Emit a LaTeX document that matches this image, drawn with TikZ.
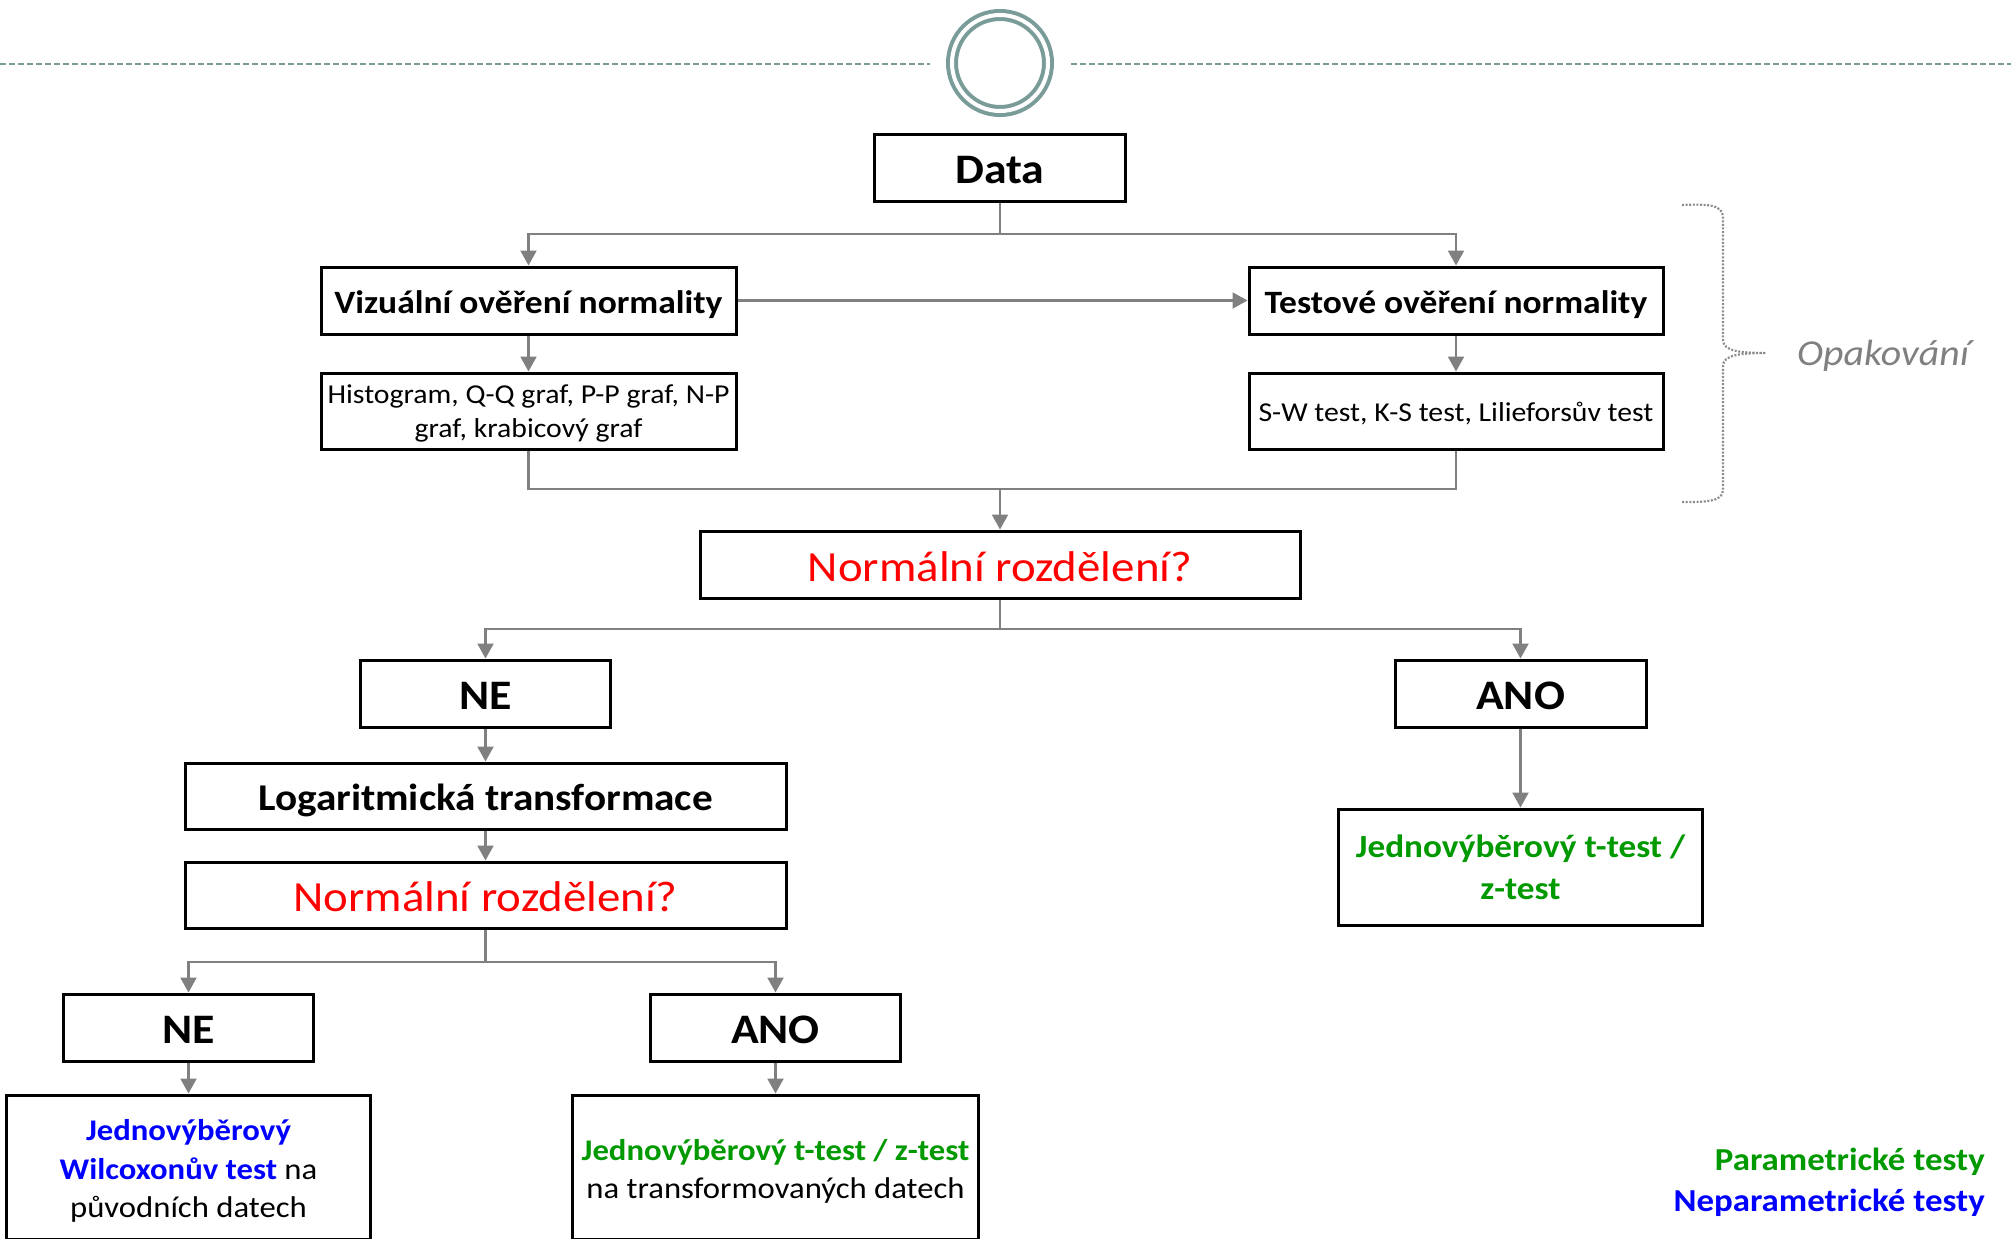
\documentclass[tikz,border=0pt]{standalone}
\usepackage{fontspec}
\setmainfont{Carlito}[FakeStretch=1.09]
\usetikzlibrary{arrows.meta}
\definecolor{ringteal}{RGB}{122,156,153}
\definecolor{conngray}{RGB}{128,128,128}
\definecolor{tgreen}{RGB}{0,153,0}
\definecolor{tblue}{RGB}{0,0,255}
\definecolor{tred}{RGB}{255,0,0}
\definecolor{bracegray}{RGB}{140,140,140}
\definecolor{optext}{RGB}{128,128,128}
\newcommand\setfs[2]{\fontsize{#1}{#2}\selectfont}
\newcommand\topstrut[1]{\rule{0pt}{#1}}
\begin{document}
\begin{tikzpicture}[x=1pt,y=-1pt,
  box/.style={draw=black, line width=3pt, fill=white, inner sep=0pt, align=center},
  conn/.style={draw=conngray, line width=2.2pt},
  arr/.style={conn, -{Triangle[length=15pt,width=16pt]}},
  dashline/.style={draw=ringteal, line width=2.5pt, dash pattern=on 6pt off 3pt},
  bigbold/.style={font={\bfseries\setfs{42}{50}}, text height=32.8pt, text depth=0pt},
  midbold/.style={font={\bfseries\setfs{32.6}{38}}, text height=25.4pt, text depth=0pt},
  question/.style={font={\setfs{43}{50}}, text=tred, text height=33.5pt, text depth=0pt},
  small/.style={font={\setfs{27.3}{34}}},
  legend/.style={anchor=base east, inner sep=0pt, font={\bfseries\setfs{32}{38}}}
]
\fill[white] (0,0) rectangle (2011,1239);
\useasboundingbox (0,0) rectangle (2011,1239);

% top ornament
\node[circle, draw=ringteal, line width=4pt, double=white, double distance=4pt,
      minimum size=96pt, inner sep=0pt] (ring) at (1000,63) {};
\coordinate (dl0) at (0,64);
\coordinate (dl1) at (930,64);
\coordinate (dr0) at (1071,64);
\coordinate (dr1) at (2011,64);
\draw[dashline] (dl0) -- (dl1);
\draw[dashline] (dr0) -- (dr1);

% boxes
\node[box, bigbold, minimum width=251pt, minimum height=67pt] (data) at (1000,167.5) {Data};
\node[box, midbold, minimum width=415pt, minimum height=67pt] (viz) at (528.5,300.5) {Vizuální ověření normality};
\node[box, small, minimum width=415pt, minimum height=76pt] (hist) at (528.5,411) {\topstrut{24pt}Histogram, Q-Q graf, P-P graf, N-P\\graf, krabicový graf};
\node[box, midbold, minimum width=414pt, minimum height=67pt] (test) at (1456,300.5) {Testové ověření normality};
\node[box, small, text height=21.3pt, text depth=0pt, minimum width=414pt, minimum height=76pt] (sw) at (1456,411) {S-W test, K-S test, Lilieforsův test};
\node[box, question, minimum width=600pt, minimum height=67pt] (norm) at (1000,564.5) {Normální rozdělení?};
\node[box, bigbold, minimum width=250pt, minimum height=67pt] (ne1) at (485.5,693.5) {NE};
\node[box, bigbold, minimum width=251pt, minimum height=67pt] (ano1) at (1520.5,693.5) {ANO};
\node[box, font={\bfseries\setfs{37.8}{44}}, text height=29.5pt, text depth=0pt, minimum width=601pt, minimum height=66pt] (log) at (485.5,796) {Logaritmická transformace};
\node[box, question, minimum width=601pt, minimum height=66pt] (norm2) at (485.5,895) {Normální rozdělení?};
\node[box, bigbold, minimum width=250pt, minimum height=67pt] (ne2) at (188.5,1027.5) {NE};
\node[box, bigbold, minimum width=250pt, minimum height=67pt] (ano2) at (775.5,1027.5) {ANO};
\node[box, font={\setfs{30}{38.5}}, minimum width=364pt, minimum height=144pt] (wil) at (188.5,1167)
  {\topstrut{29pt}{\color{tblue}\bfseries Jednovýběrový}\\{\color{tblue}\bfseries Wilcoxonův test} na\\původních datech};
\node[box, font={\setfs{30}{38}}, minimum width=406pt, minimum height=144pt] (par2) at (775.5,1167)
  {\topstrut{29pt}{\color{tgreen}\bfseries Jednovýběrový t-test / z-test}\\na transformovaných datech};
\node[box, font={\bfseries\setfs{32.3}{42}}, text=tgreen, minimum width=364pt, minimum height=116pt] (par1) at (1520.5,867)
  {Jednovýběrový t-test /\\z-test};

% connectors
\coordinate (split1) at (1000,234);
\draw[conn] (data.south) -- (split1);
\draw[arr] (split1) -| (viz.north);
\draw[arr] (split1) -| (test.north);
\draw[arr] (viz.east) -- (test.west);
\draw[arr] (viz.south) -- (hist.north);
\draw[arr] (test.south) -- (sw.north);
\coordinate (merge1) at (1000,489);
\draw[conn] (hist.south) |- (merge1);
\draw[conn] (sw.south) |- (merge1);
\draw[arr] (merge1) -- (norm.north);
\coordinate (split2) at (1000,629);
\draw[conn] (norm.south) -- (split2);
\draw[arr] (split2) -| (ne1.north);
\draw[arr] (split2) -| (ano1.north);
\draw[arr] (ne1.south) -- (log.north);
\draw[arr] (log.south) -- (norm2.north);
\draw[arr] (ano1.south) -- (par1.north);
\coordinate (split3) at (485.5,962);
\draw[conn] (norm2.south) -- (split3);
\draw[arr] (split3) -| (ne2.north);
\draw[arr] (split3) -| (ano2.north);
\draw[arr] (ne2.south) -- (wil.north);
\draw[arr] (ano2.south) -- (par2.north);

% brace and its label
\draw[bracegray, line width=2.2pt, dash pattern=on 2pt off 1.6pt]
  (1682,205) .. controls (1705,204) and (1723,204) .. (1723,217) -- (1723,340)
  .. controls (1723,351) and (1740,353) .. (1766,353)
  .. controls (1740,353) and (1723,355) .. (1723,366) -- (1723,490)
  .. controls (1723,502) and (1705,502) .. (1682,502);
\node[anchor=base west, inner sep=0pt, font={\itshape\setfs{36.5}{42}}, text=optext] (opak) at (1797,365) {Opakování};

% legend
\node[legend, text=tgreen] (legp) at (1985,1170) {Parametrické testy};
\node[legend, text=tblue] (legn) at (1985,1211) {Neparametrické testy};
\end{tikzpicture}
\end{document}
